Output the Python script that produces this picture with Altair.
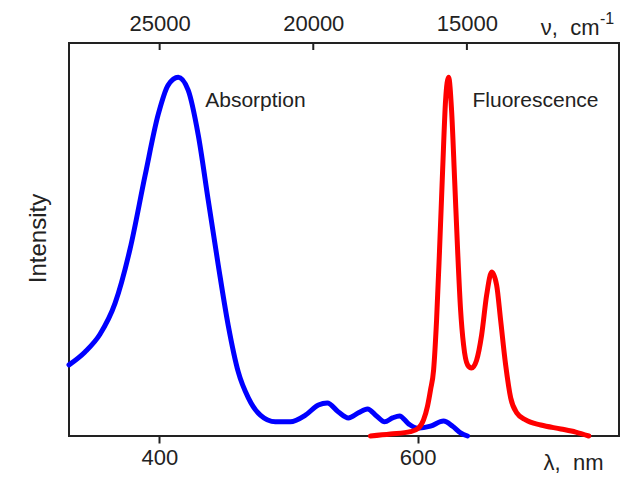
import altair as alt
import pandas as pd

# Absorption spectrum (wavelength in nm, normalised intensity)
abs_wl = [330.0, 342.4, 354.0, 365.7, 377.3, 389.0, 399.0, 406.8, 414.6, 422.3,
          430.1, 437.8, 445.6, 453.3, 461.1, 468.9, 478.2, 489.8, 501.4, 513.1,
          523.2, 530.1, 538.7, 546.4, 554.2, 561.2, 568.2, 574.4, 580.6, 586.0,
          593.0, 600.0, 610.0, 620.1, 627.1, 633.3, 638.7]
abs_int = [0.181, 0.214, 0.259, 0.338, 0.476, 0.664, 0.817, 0.893, 0.913, 0.880,
           0.766, 0.601, 0.435, 0.282, 0.163, 0.097, 0.053, 0.036, 0.036, 0.053,
           0.079, 0.084, 0.061, 0.046, 0.059, 0.069, 0.051, 0.036, 0.046, 0.051,
           0.031, 0.020, 0.025, 0.038, 0.025, 0.008, 0.0]

# Fluorescence spectrum
flu_wl = [563.5, 579.0, 594.5, 600.7, 604.6, 607.7, 610.0, 612.4, 614.7, 617.0,
          619.4, 621.7, 624.0, 626.3, 628.7, 631.0, 633.3, 635.6, 638.7, 641.8,
          645.7, 649.6, 653.5, 657.4, 661.2, 664.3, 668.2, 672.1, 676.8, 683.7,
          695.4, 710.9, 722.5, 732.6]
flu_int = [0.0, 0.005, 0.011, 0.020, 0.041, 0.076, 0.117, 0.168, 0.295, 0.473,
           0.677, 0.855, 0.913, 0.830, 0.651, 0.473, 0.321, 0.232, 0.181, 0.173,
           0.193, 0.257, 0.359, 0.417, 0.384, 0.295, 0.181, 0.097, 0.059, 0.041,
           0.028, 0.018, 0.010, 0.0]

wl_ticks = [400, 600]
wn_ticks = [25000, 20000, 15000]

W, H = 550, 393
FONT = "Liberation Sans"
FS = 22
INK = "#222"

abs_df = pd.DataFrame({"wl": abs_wl, "I": abs_int})
flu_df = pd.DataFrame({"wl": flu_wl, "I": flu_int})
wn_df = pd.DataFrame({"nu": wn_ticks})
lbl_df = pd.DataFrame({"wl": [435.5, 642.5], "I": [0.852, 0.852],
                       "t": ["Absorption", "Fluorescence"]})

xs = alt.Scale(domain=[330, 756], nice=False, zero=False)
ys = alt.Scale(domain=[0, 1], nice=False, zero=False)

x_enc = alt.X("wl:Q", scale=xs, axis=alt.Axis(
    values=wl_ticks, format="d", domain=False, grid=False,
    tickSize=7, tickWidth=2, tickColor=INK, labelPadding=4,
    labelFontSize=FS, labelFont=FONT, labelColor=INK,
    title="λ,\u00a0 nm", titleFont=FONT, titleFontSize=FS, titleFontWeight="normal",
    titleColor=INK, titleX=534, titleY=26, titleAlign="right",
    titleBaseline="middle", titleAnchor="start"))
y_enc = alt.Y("I:Q", scale=ys, axis=alt.Axis(
    labels=False, ticks=False, domain=False, grid=False,
    title="Intensity", titleFont=FONT, titleFontSize=24, titleFontWeight="normal",
    titleColor=INK, titleX=-31, titleY=195, titleAngle=-90,
    titleAlign="center", titleBaseline="middle"))

absorption = alt.Chart(abs_df).mark_line(
    color="#0000ff", strokeWidth=5, strokeJoin="round", strokeCap="round",
    interpolate="monotone"
).encode(x=x_enc, y=y_enc)

fluorescence = alt.Chart(flu_df).mark_line(
    color="#ff0000", strokeWidth=5, strokeJoin="round", strokeCap="round",
    interpolate="monotone"
).encode(x=alt.X("wl:Q", scale=xs), y=alt.Y("I:Q", scale=ys))

labels = alt.Chart(lbl_df).mark_text(
    align="left", baseline="middle", font=FONT, fontSize=21, color=INK
).encode(x=alt.X("wl:Q", scale=xs), y=alt.Y("I:Q", scale=ys), text="t:N")

spectra = alt.layer(absorption, fluorescence, labels)

# Wavenumber axis on top, with inward tick marks
wn_scale = alt.Scale(domain=[27950, 10050], nice=False, zero=False)
top_ticks = alt.Chart(wn_df).mark_rule(color=INK, strokeWidth=2).encode(
    x=alt.X("nu:Q", scale=wn_scale, axis=alt.Axis(
        orient="top", values=wn_ticks, format="d", ticks=False, domain=False,
        grid=False, labelPadding=8, labelFontSize=FS, labelFont=FONT,
        labelColor=INK,
        title="ν,\u00a0 cm", titleFont=FONT, titleFontSize=FS,
        titleFontWeight="normal", titleColor=INK, titleX=530, titleY=-9,
        titleAlign="right", titleBaseline="alphabetic", titleAnchor="start")),
    y=alt.value(0), y2=alt.value(7))

sup = alt.Chart(pd.DataFrame({"t": ["-1"]})).mark_text(
    align="left", baseline="alphabetic", font=FONT, fontSize=16, color=INK
).encode(x=alt.value(531), y=alt.value(-19), text="t:N")

chart = alt.layer(spectra, top_ticks, sup).resolve_scale(x="independent").properties(
    width=W, height=H,
    autosize=alt.AutoSizeParams(type="none"),
    padding={"left": 69, "top": 43, "right": 17, "bottom": 42},
    background="white",
).configure_view(stroke=INK, strokeWidth=2)

chart.save("out.html", embed_options={"renderer": "svg", "actions": False})
